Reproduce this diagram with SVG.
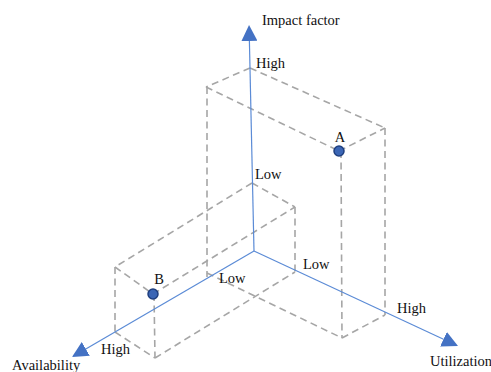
<svg xmlns="http://www.w3.org/2000/svg" width="491" height="372" viewBox="0 0 491 372">
  <style>
    .dash { stroke: #a6a6a6; stroke-width: 1.6; stroke-dasharray: 7 4.5; fill: none; }
    .axis { stroke: #5b8bd6; stroke-width: 1.2; fill: none; marker-end: url(#arrow); }
    .lbl { font-family: "Liberation Serif", "Times New Roman", serif; font-size: 14.5px; fill: #111; }
    .pt { fill: #3b66b5; stroke: #1f3f7f; stroke-width: 1.5; }
  </style>
  <defs>
    <marker id="arrow" viewBox="0 0 16 16" refX="0" refY="8" markerWidth="16" markerHeight="16" orient="auto" markerUnits="userSpaceOnUse">
      <path d="M0,0 L16,8 L0,16 z" fill="#4472c4"/>
    </marker>
  </defs>
  <rect width="491" height="372" fill="#ffffff"/>

  <g id="box-tall">
    <line class="dash" x1="250" y1="68" x2="206" y2="87"/>
    <line class="dash" x1="250" y1="68" x2="385" y2="128"/>
    <line class="dash" x1="206" y1="87" x2="339" y2="151"/>
    <line class="dash" x1="339" y1="151" x2="385" y2="128"/>
    <line class="dash" x1="207" y1="87" x2="207" y2="277"/>
    <line class="dash" x1="341" y1="151" x2="342" y2="338"/>
    <line class="dash" x1="385" y1="128" x2="385" y2="315"/>
    <line class="dash" x1="207" y1="273" x2="342" y2="338"/>
    <line class="dash" x1="342" y1="338" x2="385" y2="315"/>
  </g>

  <g id="box-wide">
    <line class="dash" x1="252" y1="183" x2="115" y2="267"/>
    <line class="dash" x1="252" y1="183" x2="295" y2="207"/>
    <line class="dash" x1="115" y1="267" x2="153" y2="294"/>
    <line class="dash" x1="153" y1="294" x2="295" y2="207"/>
    <line class="dash" x1="115" y1="267" x2="115" y2="332"/>
    <line class="dash" x1="154" y1="294" x2="155" y2="358"/>
    <line class="dash" x1="295" y1="207" x2="295" y2="272"/>
    <line class="dash" x1="115" y1="332" x2="155" y2="358"/>
    <line class="dash" x1="155" y1="358" x2="295" y2="272"/>
  </g>

  <g id="connectors">
    <line class="axis" x1="254" y1="251" x2="249.4" y2="41"/>
    <line class="axis" x1="254" y1="251" x2="443.5" y2="339.2"/>
    <line class="axis" x1="254" y1="251" x2="85.8" y2="348.9"/>
  </g>

  <g id="point-A">
    <circle class="pt" cx="339" cy="151" r="5"/>
    <text class="lbl" x="340" y="142" text-anchor="middle">A</text>
  </g>
  <g id="point-B">
    <circle class="pt" cx="153" cy="294" r="5"/>
    <text class="lbl" x="159" y="284" text-anchor="middle">B</text>
  </g>

  <g id="axis-impact">
    <text class="lbl" x="262" y="25">Impact factor</text>
    <text class="lbl" x="256" y="68">High</text>
    <text class="lbl" x="255" y="179">Low</text>
  </g>
  <g id="axis-utilization">
    <text class="lbl" x="430" y="366">Utilization</text>
    <text class="lbl" x="397" y="313">High</text>
    <text class="lbl" x="303" y="269">Low</text>
  </g>
  <g id="axis-availability">
    <text class="lbl" x="12" y="370">Availability</text>
    <text class="lbl" x="101" y="354">High</text>
    <text class="lbl" x="219" y="283">Low</text>
  </g>
</svg>
